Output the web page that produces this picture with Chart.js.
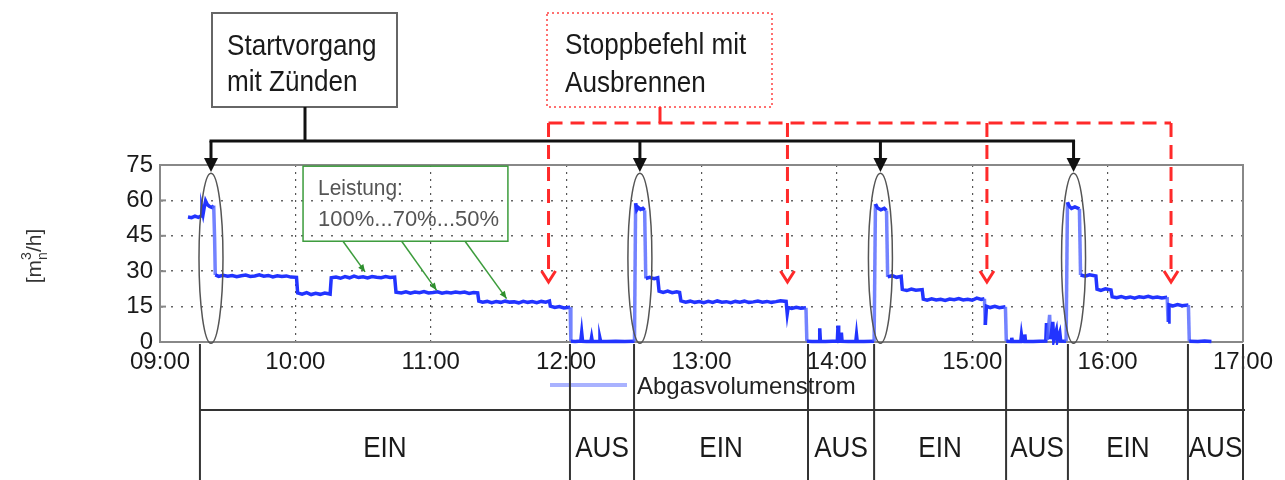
<!DOCTYPE html>
<html>
<head>
<meta charset="utf-8">
<script src="https://cdn.jsdelivr.net/npm/chart.js@4.4.0/dist/chart.umd.min.js"></script>
<style>
  body { margin: 0; background: #fff; }
  #wrap { width: 1285px; height: 480px; position: relative; }
</style>
</head>
<body>
<div id="wrap"><canvas id="myChart"></canvas></div>
<script>
// x = Minuten nach 09:00
var tickLabels = ['09:00', '10:00', '11:00', '12:00', '13:00', '14:00', '15:00', '16:00', '17:00'];

var minutes = [
  12.4, 14, 15.5, 17, 18.2, 18.6, 19.1, 19.6, 20.2, 21,
  22, 23, 23.8, 24.2, 24.5, 26, 28, 30, 32, 34,
  36, 38, 40, 42, 44, 46, 48, 50, 52, 54,
  56, 58, 60.5, 61, 63, 65, 67, 69, 71, 73,
  75.4, 75.9, 78, 80, 82, 84, 86, 88, 90, 92,
  94, 96, 98, 100, 102, 104, 104.6, 107, 109, 111,
  113, 115, 117, 119, 121, 123, 125, 127, 129, 131,
  133, 135, 137, 139, 140.8, 141.3, 143, 145, 147, 149,
  151, 153, 155, 157, 159, 161, 163, 165, 167, 169,
  171, 172.6, 173, 175, 177, 179, 181.8, 182.1, 184, 186.5,
  186.9, 187.3, 189, 191, 191.3, 191.6, 194.7, 195, 195.3, 198,
  202, 206, 210.3, 210.8, 211.3, 212, 213, 214, 214.8, 215.3,
  217, 219, 220.6, 221.2, 223, 225, 227, 229, 230.3, 230.9,
  233, 235, 237, 239, 241, 243, 245, 247, 249, 251,
  253, 255, 257, 259, 261, 263, 265, 267, 269, 271,
  273, 275, 277.5, 278, 278.4, 280, 282, 284, 286.3, 286.7,
  289, 292.1, 292.4, 292.7, 295, 298, 300.2, 300.5, 300.8, 301.7,
  302, 302.3, 305, 308.4, 308.7, 309, 312, 316.5, 317.1, 318,
  319.5, 321, 322, 322.5, 324.5, 326.5, 328.5, 329, 331, 333,
  335, 337.8, 338.3, 340, 342, 344, 346, 348, 350, 352,
  354, 356, 358, 360, 362, 364, 365.4, 365.8, 366.3, 368,
  370, 372, 374.7, 375.1, 377.2, 377.5, 377.8, 381.5, 381.8, 382.2,
  383, 383.3, 383.6, 387, 392.6, 392.9, 393.3, 394.3, 394.7, 395.7,
  396.1, 397.3, 397.7, 398.8, 399.2, 401.6, 402.2, 403, 404, 405.5,
  407.5, 408, 410, 412, 414.8, 415.3, 417, 419, 421.5, 422,
  424, 426, 428, 430, 432, 434, 436, 438, 440, 442,
  444, 446.4, 446.8, 447.2, 449, 451, 453, 455.8, 456.2, 460,
  463, 466
];

var flow = [
  53, 52.7, 53.3, 52.8, 53.4, 56.5, 54.2, 57, 59.8, 58.2,
  57.4, 57, 57.8, 44, 28.4, 27.8, 28.3, 27.9, 28.2, 27.7,
  28.1, 28.4, 27.8, 28, 28.5, 27.9, 28.2, 27.6, 28.1, 27.8,
  28, 27.5, 27.4, 20.8, 20.3, 20.9, 20.1, 20.6, 20.2, 20.7,
  20.3, 27.2, 27.5, 27, 27.7, 27.2, 27.9, 27.3, 27.6, 27.1,
  27.7, 27.4, 27.2, 27.7, 27.3, 27.5, 21.1, 20.8, 21.3, 20.7,
  21.2, 20.9, 21.4, 20.8, 21, 21.3, 20.7, 21.1, 20.8, 21.2,
  20.9, 21.2, 20.6, 21, 20.8, 17.3, 16.9, 17.2, 16.7, 17.1,
  16.8, 17.3, 16.9, 17, 16.6, 17.2, 16.8, 17.1, 16.7, 17.2,
  16.9, 17.4, 15.2, 14.6, 15, 14.4, 14.7, 0.3, 0.2, 0.4,
  4, 0.3, 0.2, 0.3, 2, 0.3, 0.2, 1.6, 0.3, 0.2,
  0.3, 0.2, 0.3, 58.8, 56, 57, 56.2, 56.6, 55.8, 26.9,
  27.4, 26.8, 27.2, 21.5, 21, 21.6, 20.9, 21.3, 21, 17.4,
  16.9, 17.3, 16.8, 17.1, 16.7, 17.2, 16.8, 17.4, 16.9, 17.1,
  16.7, 17.2, 16.9, 17.3, 16.8, 17, 17.4, 16.9, 17.2, 16.8,
  17.1, 17.5, 17.2, 12, 14.6, 14.2, 14.7, 14.3, 14.5, 0.3,
  0.2, 0.3, 5.8, 0.3, 0.2, 0.3, 0.4, 7, 0.3, 0.4,
  4, 0.3, 0.2, 0.3, 3, 0.3, 0.2, 0.3, 58.5, 56.8,
  56, 56.6, 55.7, 27.6, 28.1, 27.4, 27.8, 22.3, 21.8, 22.4,
  21.9, 22.2, 18.2, 17.7, 18.3, 17.8, 18.1, 17.6, 18.2, 17.9,
  18.4, 17.8, 18.1, 17.7, 18.6, 18, 18.3, 7.2, 15.2, 14.6,
  15.1, 14.5, 14.9, 0.3, 0.2, 1.8, 0.3, 0.2, 3, 0.3,
  0.2, 3.2, 0.3, 0.2, 0.4, 8, 1, 11.5, 1.2, 8.5,
  0.8, 5, 0.6, 4, 0.4, 0.3, 59.2, 57.5, 56.6, 57.2,
  56.4, 28.4, 27.9, 28.5, 28, 22.4, 21.9, 22.5, 22, 19.2,
  18.8, 19.3, 18.7, 19.1, 18.6, 19.2, 18.9, 19.4, 18.8, 19.1,
  18.7, 19, 8.5, 15.8, 15.3, 15.9, 15.4, 15.7, 0.3, 0.2,
  0.4, 0.2
];

// Ereignisse (Minuten nach 09:00)
var startEvents = [22.6, 212.7, 319.3, 404.9];
var stopEvents = [172.2, 278.1, 366.5, 448.1];
var phaseBounds = [17.7, 181.7, 210.1, 287.2, 316.5, 375, 402.4, 455.6, 480];
var phaseLabels = ['EIN', 'AUS', 'EIN', 'AUS', 'EIN', 'AUS', 'EIN', 'AUS'];

// Leistungsstufen: Pfeilziele [Minute, Wert] und Pfeilstart (Minute)
var powerTargets = [[90.9, 29.7], [122.6, 21.9], [153.6, 18.4]];
var powerFrom = [81.1, 107.1, 135.2];

var FONT = '"Liberation Sans", Arial, Helvetica, sans-serif';

function narrowText(ctx, text, x, y, size, align, sx) {
    ctx.save();
    ctx.translate(x, y);
    ctx.scale(sx, 1);
    ctx.font = size + 'px ' + FONT;
    ctx.textAlign = align;
    ctx.textBaseline = 'alphabetic';
    ctx.fillText(text, 0, 0);
    ctx.restore();
}

function line(ctx, x1, y1, x2, y2) {
    ctx.beginPath();
    ctx.moveTo(x1, y1);
    ctx.lineTo(x2, y2);
    ctx.stroke();
}

var overlay = {
    id: 'overlay',
    afterDraw: function (chart) {
        var ctx = chart.ctx, a = chart.chartArea;
        var x = chart.scales.x, y = chart.scales.y;
        ctx.save();

        // Rahmen oben/rechts
        ctx.strokeStyle = '#888';
        ctx.lineWidth = 2;
        ctx.beginPath();
        ctx.moveTo(a.left, a.top);
        ctx.lineTo(a.right, a.top);
        ctx.lineTo(a.right, a.bottom);
        ctx.stroke();
        [15, 30, 45, 60].forEach(function (v) {
            var py = y.getPixelForValue(v);
            line(ctx, a.left, py, a.left + 6, py);
        });

        // Ellipsen um die Startspitzen
        ctx.strokeStyle = '#555';
        ctx.lineWidth = 1.5;
        startEvents.forEach(function (s) {
            var cx = x.getPixelForValue(s);
            var t = y.getPixelForValue(71.5), b = y.getPixelForValue(-0.5);
            ctx.beginPath();
            ctx.ellipse(cx, (t + b) / 2, 12, (b - t) / 2, 0, 0, Math.PI * 2);
            ctx.stroke();
        });

        // Startvorgang: Kasten + schwarze Pfeile
        ctx.strokeStyle = '#666';
        ctx.lineWidth = 2;
        ctx.strokeRect(212, 13, 185, 94);
        ctx.fillStyle = '#1a1a1a';
        narrowText(ctx, 'Startvorgang', 227, 55, 30, 'left', 0.87);
        narrowText(ctx, 'mit Zünden', 227, 91, 30, 'left', 0.87);

        var sx = startEvents.map(function (s) { return x.getPixelForValue(s); });
        ctx.strokeStyle = '#111';
        ctx.fillStyle = '#111';
        ctx.lineWidth = 3;
        line(ctx, 305, 107, 305, 141);
        line(ctx, sx[0] - 1.5, 141, sx[sx.length - 1] + 1.5, 141);
        sx.forEach(function (px) {
            line(ctx, px, 141, px, 160);
            ctx.beginPath();
            ctx.moveTo(px - 7, 158);
            ctx.lineTo(px + 7, 158);
            ctx.lineTo(px, 172);
            ctx.closePath();
            ctx.fill();
        });

        // Stoppbefehl: Kasten + rote Pfeile
        ctx.strokeStyle = '#ff7070';
        ctx.lineWidth = 2;
        ctx.setLineDash([2, 3]);
        ctx.strokeRect(547, 13, 225, 94);
        ctx.setLineDash([]);
        ctx.fillStyle = '#1a1a1a';
        narrowText(ctx, 'Stoppbefehl mit', 565, 54, 30, 'left', 0.87);
        narrowText(ctx, 'Ausbrennen', 565, 92, 30, 'left', 0.87);

        var rx = stopEvents.map(function (s) { return x.getPixelForValue(s); });
        ctx.strokeStyle = '#ff2a2a';
        ctx.lineWidth = 3;
        line(ctx, 660, 107, 660, 123);
        ctx.setLineDash([14, 8]);
        line(ctx, rx[0], 123, rx[rx.length - 1], 123);
        rx.forEach(function (px) {
            line(ctx, px, 123, px, 272);
        });
        ctx.setLineDash([]);
        rx.forEach(function (px) {
            ctx.beginPath();
            ctx.moveTo(px - 7, 271);
            ctx.lineTo(px, 282);
            ctx.lineTo(px + 7, 271);
            ctx.stroke();
        });

        // Leistung-Kasten (gruen)
        var gl = x.getPixelForValue(63.4), gr = x.getPixelForValue(154.2);
        var gt = y.getPixelForValue(74.5), gb = y.getPixelForValue(42.7);
        ctx.strokeStyle = '#3c9c3c';
        ctx.fillStyle = '#2e8f2e';
        ctx.lineWidth = 1.5;
        ctx.strokeRect(gl, gt, gr - gl, gb - gt);
        powerTargets.forEach(function (p, i) {
            var x0 = x.getPixelForValue(powerFrom[i]), y0 = gb;
            var x1 = x.getPixelForValue(p[0]), y1 = y.getPixelForValue(p[1]);
            var ang = Math.atan2(y1 - y0, x1 - x0);
            line(ctx, x0, y0, x1, y1);
            ctx.beginPath();
            ctx.moveTo(x1, y1);
            ctx.lineTo(x1 - 8 * Math.cos(ang - 0.4), y1 - 8 * Math.sin(ang - 0.4));
            ctx.lineTo(x1 - 8 * Math.cos(ang + 0.4), y1 - 8 * Math.sin(ang + 0.4));
            ctx.closePath();
            ctx.fill();
        });
        ctx.fillStyle = '#555';
        narrowText(ctx, 'Leistung:', gl + 15, gt + 29, 22, 'left', 0.95);
        narrowText(ctx, '100%...70%...50%', gl + 15, gt + 60, 22, 'left', 1);

        // Y-Achsentitel [m_n^3/h]
        ctx.save();
        ctx.translate(41, 256);
        ctx.rotate(-Math.PI / 2);
        ctx.fillStyle = '#333';
        ctx.textBaseline = 'alphabetic';
        ctx.font = '21px ' + FONT;
        var w1 = ctx.measureText('[m').width, w3 = ctx.measureText('/h]').width;
        ctx.font = '14px ' + FONT;
        var w2 = ctx.measureText('n').width;
        var x0 = -(w1 + w2 + w3) / 2;
        ctx.font = '21px ' + FONT;
        ctx.fillText('[m', x0, 0);
        ctx.fillText('/h]', x0 + w1 + w2, 0);
        ctx.font = '14px ' + FONT;
        ctx.fillText('n', x0 + w1, 6);
        ctx.fillText('3', x0 + w1, -10);
        ctx.restore();

        // Legende
        ctx.strokeStyle = '#a9b2ff';
        ctx.lineWidth = 4;
        line(ctx, 550, 385, 627, 385);
        ctx.fillStyle = '#222';
        ctx.font = '24px ' + FONT;
        ctx.textAlign = 'left';
        ctx.fillText('Abgasvolumenstrom', 637, 394);

        // EIN/AUS-Tabelle
        var bx = phaseBounds.map(function (m) { return x.getPixelForValue(m); });
        ctx.strokeStyle = '#333';
        ctx.lineWidth = 2;
        line(ctx, bx[0], 410, bx[bx.length - 1] + 2, 410);
        bx.forEach(function (px) { line(ctx, px, 344, px, 480); });
        ctx.fillStyle = '#1a1a1a';
        phaseLabels.forEach(function (lab, i) {
            narrowText(ctx, lab, (bx[i] + bx[i + 1]) / 2, 457, 30, 'center', 0.87);
        });

        ctx.restore();
    }
};

var ctx = document.getElementById('myChart').getContext('2d');
var myChart = new Chart(ctx, {
    type: 'line',
    data: {
        datasets: [{
            label: 'Abgasvolumenstrom',
            data: minutes.map(function (m, i) { return { x: m, y: flow[i] }; }),
            borderColor: '#2234ff',
            borderWidth: 3.5,
            pointRadius: 0,
            tension: 0,
            clip: { left: 0, top: 0, right: 0, bottom: 3 },
            segment: {
                borderColor: function (c) {
                    return Math.abs(c.p1.parsed.y - c.p0.parsed.y) > 8 ? 'rgba(80,100,255,0.8)' : undefined;
                }
            }
        }]
    },
    options: {
        responsive: true,
        maintainAspectRatio: false,
        animation: false,
        layout: { padding: { top: 165, right: 42, left: 0, bottom: 0 } },
        plugins: { legend: { display: false }, tooltip: { enabled: false } },
        scales: {
            x: {
                type: 'linear',
                min: 0,
                max: 480,
                afterFit: function (s) { s.height = 138; },
                ticks: {
                    stepSize: 60,
                    autoSkip: false,
                    maxRotation: 0,
                    padding: 6,
                    color: '#1a1a1a',
                    font: { family: FONT, size: 24 },
                    callback: function (v) { return tickLabels[v / 60]; }
                },
                grid: {
                    drawTicks: false,
                    lineWidth: 1.2,
                    color: function (c) {
                        return (c.tick && (c.tick.value === 0 || c.tick.value === 480)) ? 'rgba(0,0,0,0)' : '#555';
                    }
                },
                border: { color: '#888', width: 2, dash: [2, 5] }
            },
            y: {
                min: 0,
                max: 75,
                afterFit: function (s) { s.width = 160; },
                ticks: {
                    stepSize: 15,
                    padding: 7,
                    color: '#1a1a1a',
                    font: { family: FONT, size: 24 }
                },
                grid: {
                    drawTicks: false,
                    lineWidth: 1.5,
                    color: function (c) {
                        return (c.tick && (c.tick.value === 0 || c.tick.value === 75)) ? 'rgba(0,0,0,0)' : '#666';
                    }
                },
                border: { color: '#888', width: 2, dash: [2, 8] }
            }
        }
    },
    plugins: [overlay]
});
</script>
</body>
</html>
